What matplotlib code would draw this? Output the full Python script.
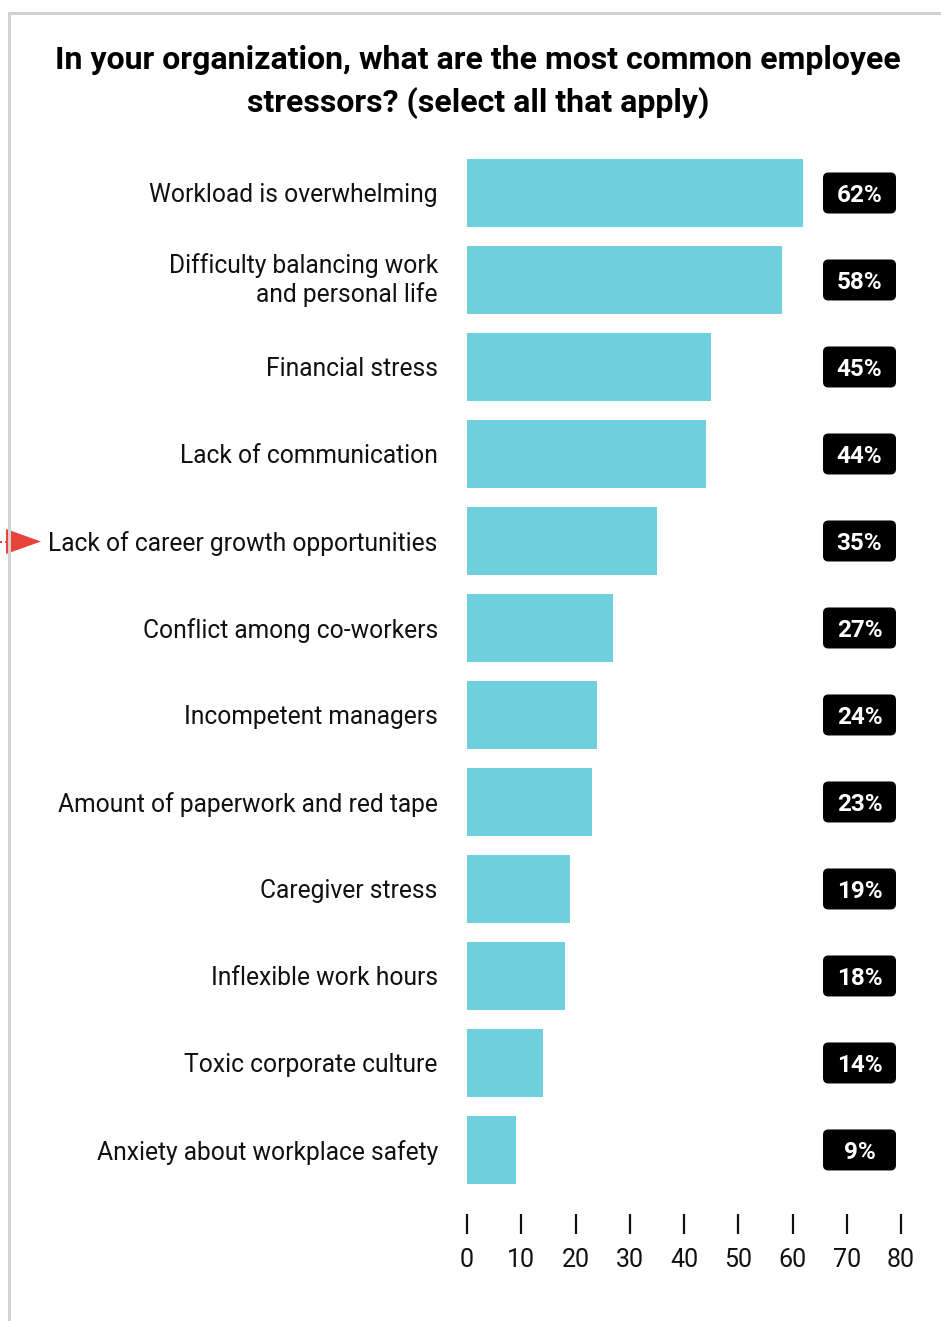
import matplotlib
matplotlib.use("Agg")
import matplotlib.pyplot as plt
from matplotlib.patches import FancyBboxPatch, Polygon
from matplotlib.lines import Line2D

plt.rcParams["font.family"] = ["Roboto", "DejaVu Sans"]

stressors = [
    "Workload is overwhelming",
    "Difficulty balancing work\nand personal life",
    "Financial stress",
    "Lack of communication",
    "Lack of career growth opportunities",
    "Conflict among co-workers",
    "Incompetent managers",
    "Amount of paperwork and red tape",
    "Caregiver stress",
    "Inflexible work hours",
    "Toxic corporate culture",
    "Anxiety about workplace safety",
]
shares = [62, 58, 45, 44, 35, 27, 24, 23, 19, 18, 14, 9]
x_ticks = [0, 10, 20, 30, 40, 50, 60, 70, 80]
title = ("In your organization, what are the most common employee\n"
         "stressors? (select all that apply)")

BAR_COLOR = "#6fcfdc"
W, H = 941, 1321

fig = plt.figure(figsize=(W / 100, H / 100), dpi=100)
ax = fig.add_axes([467 / W, (H - 1214) / H, 434 / W, (1214 - 149.5) / H])

rows = list(range(len(stressors)))
ax.barh(rows, shares, height=0.78, color=BAR_COLOR)
ax.set_xlim(0, 80)
ax.set_ylim(11.736, -0.5)

ax.set_yticks(rows)
ax.set_yticklabels(stressors, fontsize=17.7, color="#111111", linespacing=1.2)
ax.tick_params(axis="y", length=0, pad=21)
# two-line labels sit centred on the bar rather than on the first baseline
for lab in ax.get_yticklabels():
    if "\n" in lab.get_text():
        lab.set_verticalalignment("center")
ax.set_xticks(x_ticks)
ax.set_xticklabels([str(t) for t in x_ticks], fontsize=18, color="#111111")
ax.tick_params(axis="x", direction="out", length=14.5, width=1.6, color="#111111", pad=10)
for side in ax.spines.values():
    side.set_visible(False)

# value badges: black rounded boxes with white percentages
px_x = 434 / 80
px_y = 87.0
box_w = 73 / px_x
box_h = 41 / px_y
box_left = (823 - 467) / px_x
for row, val in zip(rows, shares):
    badge = FancyBboxPatch(
        (box_left, row - box_h / 2), box_w, box_h,
        boxstyle="round,pad=0,rounding_size=1.0",
        mutation_aspect=px_x / px_y,
        facecolor="black", edgecolor="none", clip_on=False,
    )
    ax.add_patch(badge)
    ax.text(box_left + box_w / 2, row, f"{val}%", color="white",
            fontsize=17.5, fontweight="bold", ha="center", va="center_baseline")

fig.text(478 / W, 1 - 82 / H, title, ha="center", va="center",
         fontsize=23, fontweight="bold", linespacing=1.52, color="black")

# frame lines at the top and left edge
fig.add_artist(Line2D([9 / W, 1], [1 - 13 / H] * 2, color="#d6d1d1", lw=2.2))
fig.add_artist(Line2D([9 / W] * 2, [0, 1 - 13 / H], color="#d6d1d1", lw=2.2))

# red pointer next to the highlighted row
arrow_y = 1 - 541.5 / H
fig.add_artist(Line2D([0, 7 / W], [arrow_y] * 2, color="#e8433a", lw=1.5, ls=(0, (1, 1.5))))
fig.add_artist(Polygon([[6 / W, 1 - 529 / H], [6 / W, 1 - 554 / H], [41 / W, arrow_y]],
                       closed=True, facecolor="#e8433a", edgecolor="none",
                       transform=fig.transFigure))

fig.savefig("out.png", dpi=100, facecolor="white")
